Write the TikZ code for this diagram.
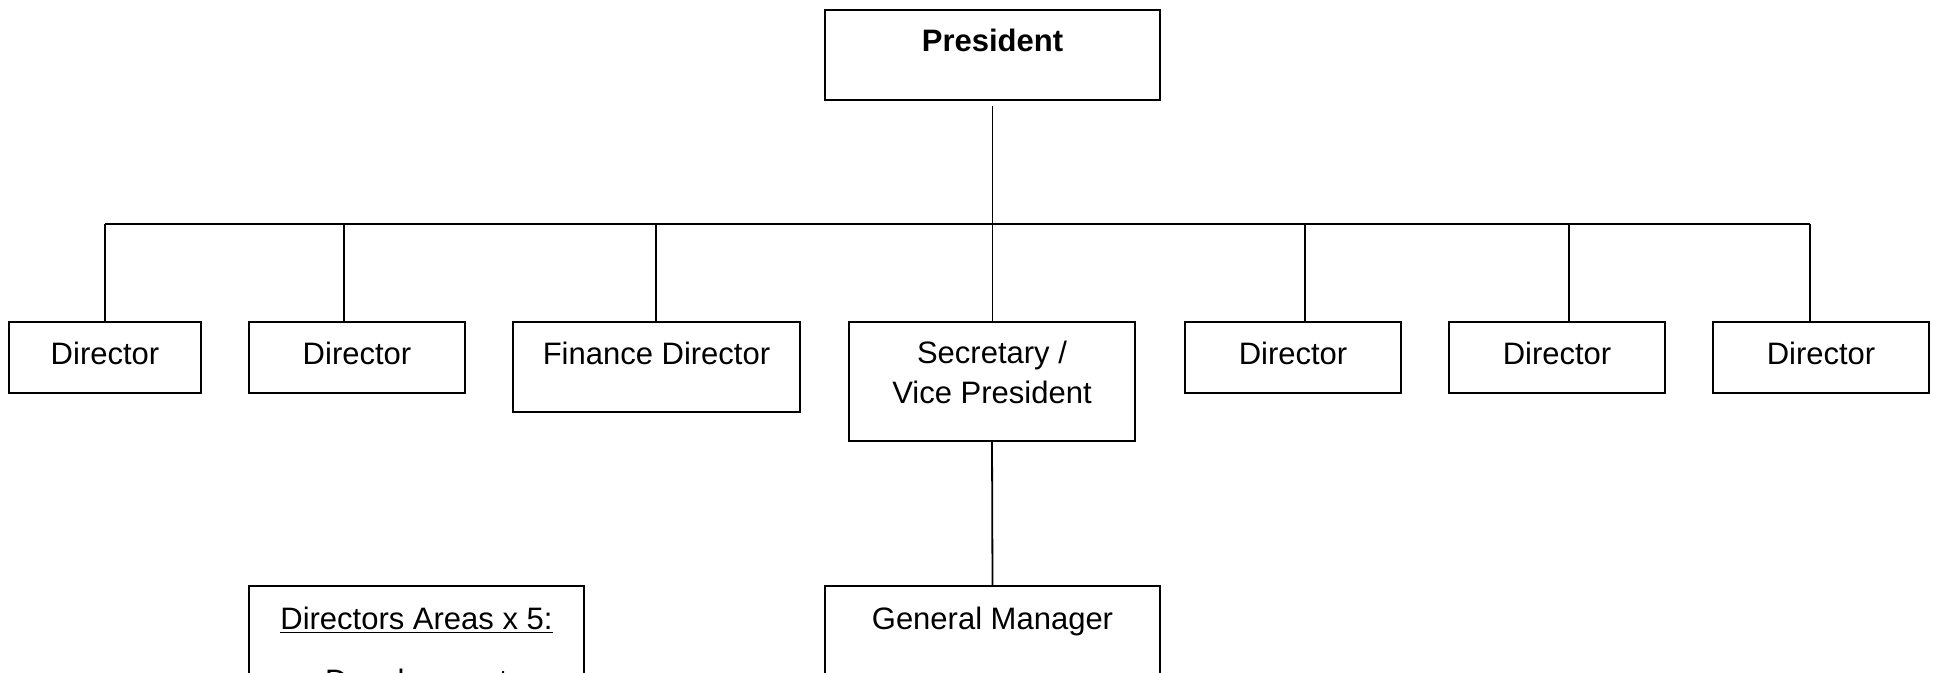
\documentclass[tikz,border=0pt]{standalone}
\usepackage{fontspec}
\setmainfont{Liberation Sans}
\begin{document}
\begin{tikzpicture}[x=0.5pt,y=-0.5pt,
  box/.style={draw, line width=1.1pt, inner sep=0pt, outer sep=0pt, anchor=north west},
  conn/.style={line width=0.9pt},
  lbl/.style={inner sep=0pt, anchor=base, font=\fontsize{15.5}{20.5}\selectfont},
  blbl/.style={lbl, font=\fontsize{15.5}{20.5}\selectfont\bfseries}]
\useasboundingbox (0,0) rectangle (1933,673);
\clip (0,0) rectangle (1933,673);
% boxes
\node[box, minimum width=167.5pt, minimum height=45pt] (pres) at (825,10) {};
\node[box, minimum width=96pt, minimum height=35.5pt] (d1) at (9,322) {};
\node[box, minimum width=108pt, minimum height=35.5pt] (d2) at (249,322) {};
\node[box, minimum width=143.5pt, minimum height=45pt] (fin) at (513,322) {};
\node[box, minimum width=143pt, minimum height=59.5pt] (sec) at (849,322) {};
\node[box, minimum width=108pt, minimum height=35.5pt] (d3) at (1185,322) {};
\node[box, minimum width=108pt, minimum height=35.5pt] (d4) at (1449,322) {};
\node[box, minimum width=108pt, minimum height=35.5pt] (d5) at (1713,322) {};
\node[box, minimum width=167.5pt, minimum height=75pt] (gm) at (825,586) {};
\node[box, minimum width=167.5pt, minimum height=75pt] (da) at (249,586) {};
% labels
\node[blbl] (tpres) at (pres.north |- 0,52) {President};
\node[lbl] (td1) at (d1.north |- 0,365) {Director};
\node[lbl] (td2) at (d2.north |- 0,365) {Director};
\node[lbl] (tfin) at (fin.north |- 0,365) {Finance Director};
\node[lbl, align=center] (tsec) at (sec.north |- 0,404) {Secretary /\\[-0.5pt]Vice President};
\node[lbl] (td3) at (d3.north |- 0,365) {Director};
\node[lbl] (td4) at (d4.north |- 0,365) {Director};
\node[lbl] (td5) at (d5.north |- 0,365) {Director};
\node[lbl] (tgm) at (gm.north |- 0,629) {General Manager};
\node[lbl] (tda) at (da.north |- 0,629) {\underline{Directors Areas x 5:}};
\node[lbl] (tdev) at (da.north |- 0,691) {Development};
% connectors
\coordinate (ptop) at (992.5,106);
\coordinate (busL) at (105,224);
\coordinate (busR) at (1810,224);
\coordinate (b2) at (344,224);
\coordinate (b3) at (656,224);
\coordinate (b5) at (1305,224);
\coordinate (b6) at (1569,224);
\draw[conn] (ptop) -- (ptop |- sec.north);
\draw[conn] (busL) -- (busR);
\draw[conn] (busL) -- (d1.north);
\draw[conn] (b2) -- (b2 |- d2.north);
\draw[conn] (b3) -- (b3 |- fin.north);
\draw[conn] (b5) -- (b5 |- d3.north);
\draw[conn] (b6) -- (b6 |- d4.north);
\draw[conn] (busR) -- (busR |- d5.north);
\draw[conn] (sec.south) -- (gm.north);
\end{tikzpicture}
\end{document}
